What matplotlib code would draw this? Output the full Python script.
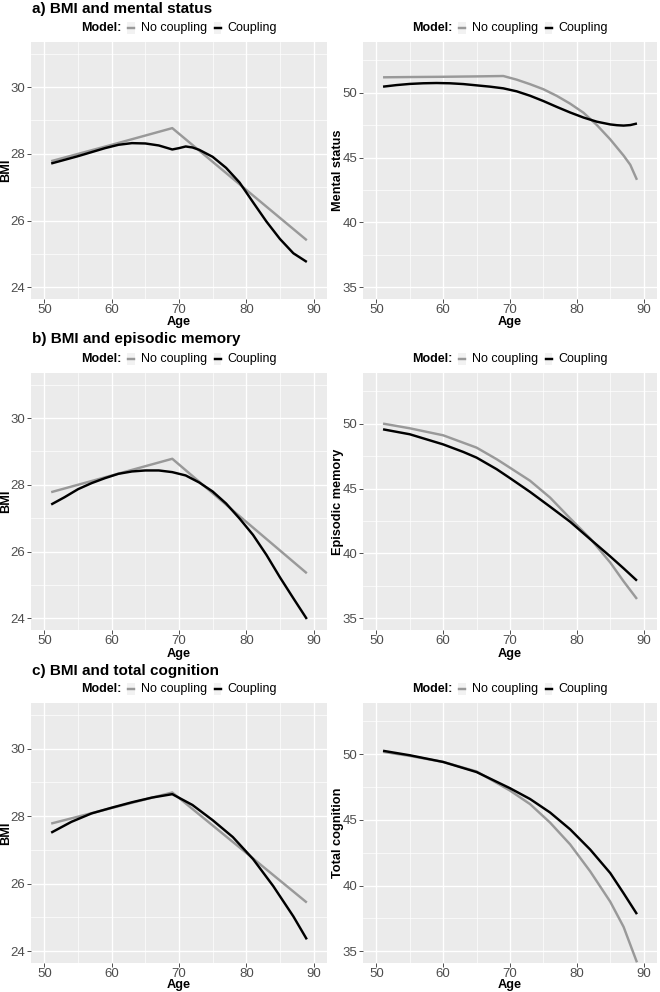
import matplotlib
matplotlib.use('Agg')
import matplotlib.pyplot as plt
from matplotlib.ticker import MultipleLocator
from matplotlib.offsetbox import TextArea, DrawingArea, HPacker, AnchoredOffsetbox
from matplotlib.lines import Line2D
from matplotlib.patches import Rectangle

plt.rcParams['font.family'] = ['Liberation Sans', 'DejaVu Sans']

# ---- data ----
# a) BMI and mental status
a_bmi_nc_age = [51, 60, 69, 80, 89]
a_bmi_nc = [27.78, 28.27, 28.77, 26.92, 25.41]
a_bmi_c_age = [51, 53, 55, 57, 59, 61, 63, 65, 67, 69, 70, 71, 72, 73, 75, 77, 79, 81, 83, 85, 87, 89]
a_bmi_c = [27.71, 27.82, 27.93, 28.05, 28.17, 28.27, 28.32, 28.31, 28.25, 28.13, 28.17, 28.22, 28.19,
           28.12, 27.91, 27.58, 27.14, 26.55, 25.97, 25.45, 25.02, 24.76]
a_cog_nc_age = [51, 55, 60, 65, 69, 71, 73, 75, 77, 79, 81, 83, 85, 87, 88, 89]
a_cog_nc = [51.18, 51.2, 51.22, 51.25, 51.28, 51.0, 50.65, 50.26, 49.75, 49.15, 48.45, 47.5, 46.4,
            45.15, 44.44, 43.28]
a_cog_c_age = [51, 53, 55, 57, 59, 61, 63, 65, 67, 69, 71, 73, 75, 77, 79, 81, 83, 85, 86, 87, 88, 89]
a_cog_c = [50.46, 50.58, 50.67, 50.72, 50.74, 50.72, 50.66, 50.56, 50.46, 50.33, 50.1, 49.76, 49.35,
           48.9, 48.47, 48.08, 47.76, 47.55, 47.49, 47.46, 47.5, 47.62]

# b) BMI and episodic memory
b_bmi_nc_age = [51, 60, 69, 80, 89]
b_bmi_nc = [27.78, 28.28, 28.78, 26.89, 25.35]
b_bmi_c_age = [51, 53, 55, 57, 59, 61, 63, 65, 67, 69, 71, 73, 75, 77, 79, 81, 83, 85, 87, 89]
b_bmi_c = [27.41, 27.63, 27.87, 28.05, 28.2, 28.33, 28.4, 28.43, 28.43, 28.38, 28.28, 28.07, 27.8,
           27.44, 26.99, 26.5, 25.9, 25.23, 24.6, 23.98]
b_cog_nc_age = [51, 55, 60, 65, 68, 70, 73, 76, 79, 82, 85, 87, 89]
b_cog_nc = [50.0, 49.64, 49.1, 48.15, 47.26, 46.6, 45.6, 44.3, 42.7, 41.15, 39.3, 37.85, 36.49]
b_cog_c_age = [51, 55, 60, 63, 65, 68, 70, 73, 76, 79, 82, 85, 87, 89]
b_cog_c = [49.56, 49.18, 48.4, 47.82, 47.38, 46.49, 45.8, 44.74, 43.6, 42.44, 41.1, 39.77, 38.85, 37.9]

# c) BMI and total cognition
c_bmi_nc_age = [51, 60, 69, 80, 89]
c_bmi_nc = [27.78, 28.24, 28.7, 26.91, 25.44]
c_bmi_c_age = [51, 54, 57, 60, 63, 66, 69, 72, 75, 78, 81, 84, 87, 89]
c_bmi_c = [27.51, 27.83, 28.08, 28.25, 28.41, 28.55, 28.65, 28.33, 27.88, 27.38, 26.73, 25.93,
           25.03, 24.35]
c_cog_nc_age = [51, 55, 60, 65, 70, 73, 76, 79, 82, 85, 87, 89]
c_cog_nc = [50.18, 49.87, 49.41, 48.69, 47.23, 46.2, 44.79, 43.13, 41.08, 38.77, 36.85, 34.15]
c_cog_c_age = [51, 55, 60, 65, 70, 73, 76, 79, 82, 85, 87, 89]
c_cog_c = [50.26, 49.92, 49.41, 48.64, 47.41, 46.59, 45.56, 44.28, 42.74, 40.95, 39.41, 37.82]

row_titles = ['a) BMI and mental status', 'b) BMI and episodic memory', 'c) BMI and total cognition']
cog_labels = ['Mental status', 'Episodic memory', 'Total cognition']
rows = [
    [(a_bmi_nc_age, a_bmi_nc, a_bmi_c_age, a_bmi_c), (a_cog_nc_age, a_cog_nc, a_cog_c_age, a_cog_c)],
    [(b_bmi_nc_age, b_bmi_nc, b_bmi_c_age, b_bmi_c), (b_cog_nc_age, b_cog_nc, b_cog_c_age, b_cog_c)],
    [(c_bmi_nc_age, c_bmi_nc, c_bmi_c_age, c_bmi_c), (c_cog_nc_age, c_cog_nc, c_cog_c_age, c_cog_c)],
]

GREY = '#999999'
LW = 1.75
W, H = 660, 992
fig = plt.figure(figsize=(W / 100, H / 100), dpi=100)

# panel boxes in pixels: (left, right) and (top, bottom)
col_x = [(31, 327), (363, 657)]
row_y = [(42, 299), (373, 630), (703, 963)]
title_base = [13.5, 343.5, 675]
ylab_right = [12.5, 343.5]   # right edge of the rotated y label, px
xlab_base = [325, 656.5, 988]  # baseline of the "Age" label, px


def make_legend(ax):
    items = [TextArea('Model:', textprops=dict(fontsize=9, fontweight='bold', color='black'))]
    for col, lab in [(GREY, 'No coupling'), ('black', 'Coupling')]:
        da = DrawingArea(5.5, 8.5, 0, 0)
        da.add_artist(Rectangle((0, 0), 5.5, 8.5, facecolor='#F2F2F2', edgecolor='none'))
        da.add_artist(Line2D([0.6, 4.9], [4.25, 4.25], color=col, lw=LW))
        items.append(da)
        items.append(TextArea(lab, textprops=dict(fontsize=9, color='black')))
    box = HPacker(children=items, align='center', pad=0, sep=4.5)
    anc = AnchoredOffsetbox(loc='center', child=box, pad=0, borderpad=0, frameon=False,
                            bbox_to_anchor=(0.5, 1.055), bbox_transform=ax.transAxes)
    ax.add_artist(anc)


for r in range(3):
    top, bot = row_y[r]
    fig.text(32 / W, 1 - title_base[r] / H, row_titles[r], fontsize=11, fontweight='bold',
             ha='left', va='baseline')
    for c in range(2):
        left, right = col_x[c]
        ax = fig.add_axes([left / W, 1 - bot / H, (right - left) / W, (bot - top) / H])
        ax.set_facecolor('#EBEBEB')
        nc_age, nc, cp_age, cp = rows[r][c]
        ax.plot(nc_age, nc, color=GREY, lw=LW, solid_capstyle='butt', zorder=3)
        ax.plot(cp_age, cp, color='black', lw=LW, solid_capstyle='butt', zorder=4)

        ax.set_xlim(48, 92)
        ax.xaxis.set_major_locator(MultipleLocator(10))
        ax.xaxis.set_minor_locator(MultipleLocator(5))
        if c == 0:
            ax.set_ylim(23.65, 31.35)
            ax.yaxis.set_major_locator(MultipleLocator(2))
            ax.yaxis.set_minor_locator(MultipleLocator(1))
            ax.set_ylabel('BMI', fontsize=9.2, fontweight='bold')
        else:
            ax.set_ylim(34.1, 53.9)
            ax.set_yticks([35, 40, 45, 50])
            ax.set_yticks([37.5, 42.5, 47.5, 52.5], minor=True)
            ax.set_ylabel(cog_labels[r], fontsize=9.2, fontweight='bold')
        ax.set_xlabel('Age', fontsize=9.2, fontweight='bold', va='baseline')
        ax.yaxis.set_label_coords((ylab_right[c] - left) / (right - left), 0.5)
        ax.xaxis.set_label_coords(0.5, (bot - xlab_base[r]) / (bot - top))

        ax.grid(which='major', color='white', lw=1.0)
        ax.grid(which='minor', color='white', lw=0.5)
        ax.set_axisbelow(True)
        for s in ax.spines.values():
            s.set_visible(False)
        ax.tick_params(which='major', length=2.75, width=0.6, color='#333333',
                       labelsize=9.5, labelcolor='#4D4D4D', pad=1.2)
        ax.tick_params(which='minor', length=0)
        make_legend(ax)

fig.savefig('out.png', dpi=100)
